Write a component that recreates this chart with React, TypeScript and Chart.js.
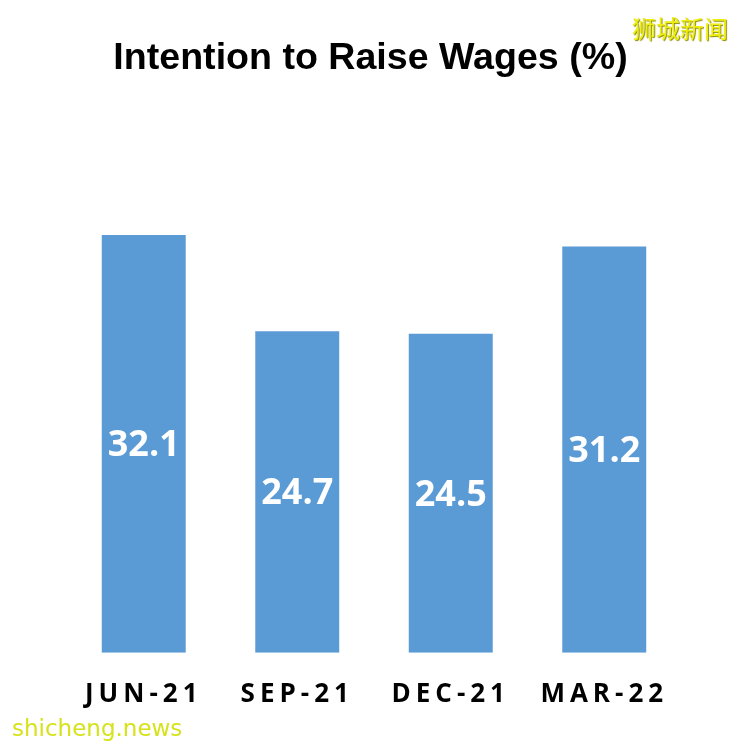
import React, { useEffect, useRef } from "react";
import { Chart, registerables } from "chart.js";

Chart.register(...registerables);

const categories: string[] = ["JUN-21", "SEP-21", "DEC-21", "MAR-22"];
const values: number[] = [32.1, 24.7, 24.5, 31.2];
const titleText = "Intention to Raise Wages (%)";
const yMin = 0;
const yMax = 35;

const valueLabelPlugin = {
  id: "valueLabels",
  afterDatasetsDraw(chart: any) {
    const ctx = chart.ctx as any;
    ctx.save();
    ctx.letterSpacing = "0px";
    ctx.fillStyle = "#ffffff";
    ctx.font = "bold 36px 'Open Sans'";
    ctx.textAlign = "center";
    ctx.textBaseline = "middle";
    const meta = chart.getDatasetMeta(0);
    const data = chart.data.datasets[0].data as number[];
    meta.data.forEach((bar: any, i: number) => {
      const p = bar.getProps(["x", "y", "base"], true);
      ctx.fillText(data[i].toFixed(1), p.x, (p.y + p.base) / 2 + 2);
    });
    ctx.restore();
    // x-axis tick labels (drawn after datasets) use wide letter spacing
    ctx.letterSpacing = "5px";
  },
  afterDraw(chart: any) {
    (chart.ctx as any).letterSpacing = "0px";
  },
};

export default function App() {
  const canvasRef = useRef<HTMLCanvasElement | null>(null);

  useEffect(() => {
    if (!canvasRef.current) return;
    const chart = new Chart(canvasRef.current, {
      type: "bar",
      data: {
        labels: categories,
        datasets: [
          {
            data: values,
            backgroundColor: "#5B9BD5",
            borderWidth: 0,
            categoryPercentage: 1,
            barPercentage: 0.547,
          },
        ],
      },
      options: {
        animation: false,
        responsive: false,
        events: [],
        layout: { padding: { left: 52, right: 55, top: 0, bottom: 4 } },
        plugins: {
          legend: { display: false },
          tooltip: { enabled: false },
          title: {
            display: true,
            text: titleText,
            color: "#000000",
            font: { family: "'Liberation Sans', Arial, sans-serif", size: 37.6, weight: "bold" },
            padding: { top: 28, bottom: 116 },
          },
        },
        scales: {
          x: {
            grid: { display: false, drawTicks: false },
            border: { display: false },
            ticks: {
              z: 1,
              color: "#000000",
              padding: 26,
              autoSkip: false,
              maxRotation: 0,
              font: { family: "'Open Sans'", size: 26, weight: "bold" },
            },
          },
          y: {
            display: true,
            min: yMin,
            max: yMax,
            grid: { display: false, drawTicks: false },
            border: { display: false },
            ticks: { display: false },
            afterFit: (scale: any) => {
              scale.width = 7;
            },
          },
        },
      },
      plugins: [valueLabelPlugin],
    });
    return () => chart.destroy();
  }, []);

  return (
    <div>
      <canvas ref={canvasRef} width={728} height={732} style={{ display: "block" }} />
      <div
        style={{
          position: "absolute",
          left: 632,
          top: 12,
          fontFamily: "'Noto Sans CJK SC', sans-serif",
          fontSize: 24,
          lineHeight: "32px",
          color: "#eeee10",
          textShadow: "1px 1px 1px #8a8a00",
          whiteSpace: "nowrap",
        }}
      >
        狮城新闻
      </div>
      <div
        style={{
          position: "absolute",
          left: 12,
          top: 713,
          fontFamily: "'DejaVu Sans', sans-serif",
          fontSize: 23,
          lineHeight: "30px",
          color: "#d6e21a",
          whiteSpace: "nowrap",
        }}
      >
        shicheng.news
      </div>
    </div>
  );
}
